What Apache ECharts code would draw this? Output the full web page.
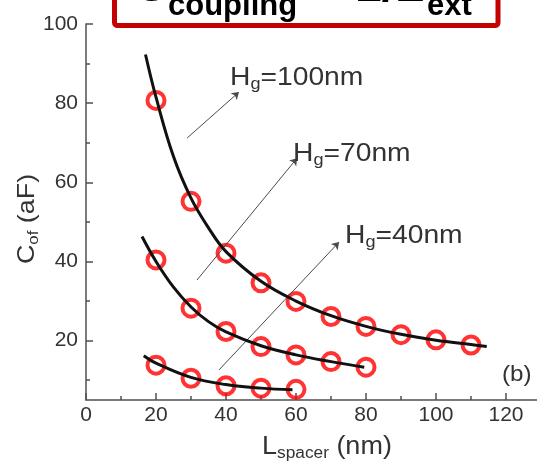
<!DOCTYPE html>
<html>
<head>
<meta charset="utf-8">
<script src="https://cdn.jsdelivr.net/npm/echarts@6/dist/echarts.min.js"></script>
<style>
  html, body { margin: 0; padding: 0; background: #ffffff; }
  #chart { width: 537px; height: 465px; }
</style>
</head>
<body>
<div id="chart"></div>
<script>
// Axis ticks
const xTicks = [0, 20, 40, 60, 80, 100, 120];
const xMinorTicks = [10, 30, 50, 70, 90, 110, 130];
const yTicks = [20, 40, 60, 80, 100];
const yMinorTicks = [10, 30, 50, 70, 90];

// Measured overlap capacitance C_of (aF) vs spacer length (nm)
const hg100Measured = [[20, 80.7], [30, 55.2], [40, 42.1], [50, 34.6], [60, 29.9], [70, 26.1], [80, 23.6], [90, 21.5], [100, 20.2], [110, 18.9]];
const hg70Measured = [[20, 40.4], [30, 28.2], [40, 22.3], [50, 18.5], [60, 16.4], [70, 14.7], [80, 13.3]];
const hg40Measured = [[20, 13.8], [30, 10.5], [40, 8.6], [50, 8.0], [60, 7.7]];

// Fitted curves
const hg100Fit = [[17, 92.3], [20, 81.5], [25, 66.5], [30, 56], [35, 48.5], [40, 42.5], [50, 35], [60, 30], [70, 26.3], [80, 23.6], [90, 21.6], [100, 20.1], [110, 19], [114.5, 18.5]];
const hg70Fit = [[16, 46.3], [20, 40], [25, 33.5], [30, 28.5], [35, 24.8], [40, 22.2], [50, 18.7], [60, 16.4], [70, 14.7], [79.5, 13.3]];
const hg40Fit = [[16.5, 16.2], [20, 14.3], [30, 10.7], [40, 8.9], [50, 8.0], [59, 7.6]];

// Label pointers (start -> arrow head), in axis units
const pointerHg100 = [[28.9, 71.2], [43.7, 82.8]];
const pointerHg70 = [[31.7, 35.3], [60.3, 66.1]];
const pointerHg40 = [[38.0, 12.6], [72.3, 44.9]];

const FONT = '"Liberation Sans", Arial, Helvetica, sans-serif';
const INK = '#333333';
const AXIS = '#505050';

const chart = echarts.init(document.getElementById('chart'), null, { renderer: 'canvas' });

function fitLine(name, pts) {
  return {
    type: 'line', name: name, data: pts, smooth: 0.4,
    showSymbol: false, symbol: 'none',
    lineStyle: { color: '#111111', width: 3 },
    z: 5, silent: true
  };
}
function markers(name, pts) {
  return {
    type: 'scatter', name: name, data: pts,
    symbol: 'circle', symbolSize: 17,
    itemStyle: { color: 'rgba(255,255,255,0)', borderColor: '#ff0000', borderWidth: 4 },
    z: 3, silent: true
  };
}
function pointer(seg) {
  return [{ coord: seg[0] }, { coord: seg[1] }];
}

function axisBase(min, max, pos) {
  return {
    type: 'value', min: min, max: max, position: pos,
    splitLine: { show: false }
  };
}

const xMain = Object.assign(axisBase(0, 130, 'bottom'), {
  axisLine: { show: true, lineStyle: { color: AXIS, width: 1.5 } },
  axisTick: { show: true, inside: true, length: 7, customValues: xTicks, lineStyle: { color: AXIS, width: 1.5 } },
  axisLabel: { show: true, customValues: xTicks, fontSize: 21, color: INK, fontFamily: FONT, margin: 5 }
});
const xMinor = Object.assign(axisBase(0, 130, 'bottom'), {
  axisLine: { show: false },
  axisTick: { show: true, inside: true, length: 4, customValues: xMinorTicks, lineStyle: { color: AXIS, width: 1.5 } },
  axisLabel: { show: false }
});
const yMain = Object.assign(axisBase(5, 100, 'left'), {
  axisLine: { show: true, lineStyle: { color: AXIS, width: 1.5 } },
  axisTick: { show: true, inside: true, length: 7, customValues: yTicks, lineStyle: { color: AXIS, width: 1.5 } },
  axisLabel: { show: true, customValues: yTicks, fontSize: 21, color: INK, fontFamily: FONT, margin: 8 }
});
const yMinor = Object.assign(axisBase(5, 100, 'left'), {
  axisLine: { show: false },
  axisTick: { show: true, inside: true, length: 4, customValues: yMinorTicks, lineStyle: { color: AXIS, width: 1.5 } },
  axisLabel: { show: false }
});

// Text helpers for the free-standing labels
const mainSub = function (size) {
  return {
    m: { fontSize: size, lineHeight: size + 4, fontFamily: FONT, fill: INK },
    s: { fontSize: Math.round(size * 0.62), lineHeight: Math.round(size * 0.62), verticalAlign: 'bottom', fontFamily: FONT, fill: INK }
  };
};
function richText(x, y, text, size, opts) {
  opts = opts || {};
  return {
    type: 'text', x: x, y: y,
    rotation: opts.rotation || 0,
    scaleX: opts.scaleX || 1,
    z: 100,
    style: {
      x: 0, y: 0, text: text,
      rich: mainSub(size),
      align: opts.align || 'left', verticalAlign: 'middle',
      fontFamily: FONT, fontSize: size, fill: INK
    }
  };
}
function boldText(x, baseline, text, size) {
  return {
    type: 'text', x: x, y: baseline - 0.35 * size, z: 101,
    style: {
      x: 0, y: 0, text: text, align: 'left', verticalAlign: 'middle',
      fontFamily: FONT, fontWeight: 'bold', fontSize: size, fill: '#000000'
    }
  };
}

const option = {
  backgroundColor: '#ffffff',
  animation: false,
  grid: { left: 86, top: 24, width: 455, height: 376, containLabel: false, outerBoundsMode: 'none' },
  xAxis: [xMain, xMinor],
  yAxis: [yMain, yMinor],
  series: [
    {
      type: 'scatter', name: 'pointers', data: [], silent: true, z: 1,
      markLine: {
        silent: true, animation: false,
        symbol: ['none', 'arrow'], symbolSize: 7,
        label: { show: false },
        lineStyle: { color: '#4a4a4a', width: 1, type: 'solid' },
        emphasis: { disabled: true },
        data: [pointer(pointerHg100), pointer(pointerHg70), pointer(pointerHg40)]
      }
    },
    markers('Hg=100nm', hg100Measured),
    markers('Hg=70nm', hg70Measured),
    markers('Hg=40nm', hg40Measured),
    fitLine('Hg=100nm fit', hg100Fit),
    fitLine('Hg=70nm fit', hg70Fit),
    fitLine('Hg=40nm fit', hg40Fit)
  ],
  graphic: [
    // Boxed relation at the top
    {
      type: 'rect', z: 99,
      shape: { x: 114.5, y: -70, width: 383.5, height: 95.5, r: 3 },
      style: { fill: '#ffffff', stroke: '#c40000', lineWidth: 5 }
    },
    boldText(133, 5, 'C', 48),
    boldText(168, 17, 'coupling', 31),
    boldText(305, 5, '\u221d', 48),
    boldText(355, 5, '1/L', 48),
    boldText(427, 17, 'ext', 31),

    // Curve labels
    richText(230, 78, '{m|H}{s|g}{m|=100nm}', 25, { scaleX: 1.13 }),
    richText(293, 154, '{m|H}{s|g}{m|=70nm}', 25, { scaleX: 1.13 }),
    richText(345, 236, '{m|H}{s|g}{m|=40nm}', 25, { scaleX: 1.13 }),
    richText(502, 375, '{m|(b)}', 22, { scaleX: 1.1 }),

    // Axis titles
    richText(262, 447, '{m|L}{s|spacer}{m| (nm)}', 25, { scaleX: 1.08 }),
    richText(27, 219, '{m|C}{s|of}{m| (aF)}', 24, { rotation: Math.PI / 2, align: 'center', scaleX: 1.12 })
  ]
};

chart.setOption(option);
</script>
</body>
</html>
